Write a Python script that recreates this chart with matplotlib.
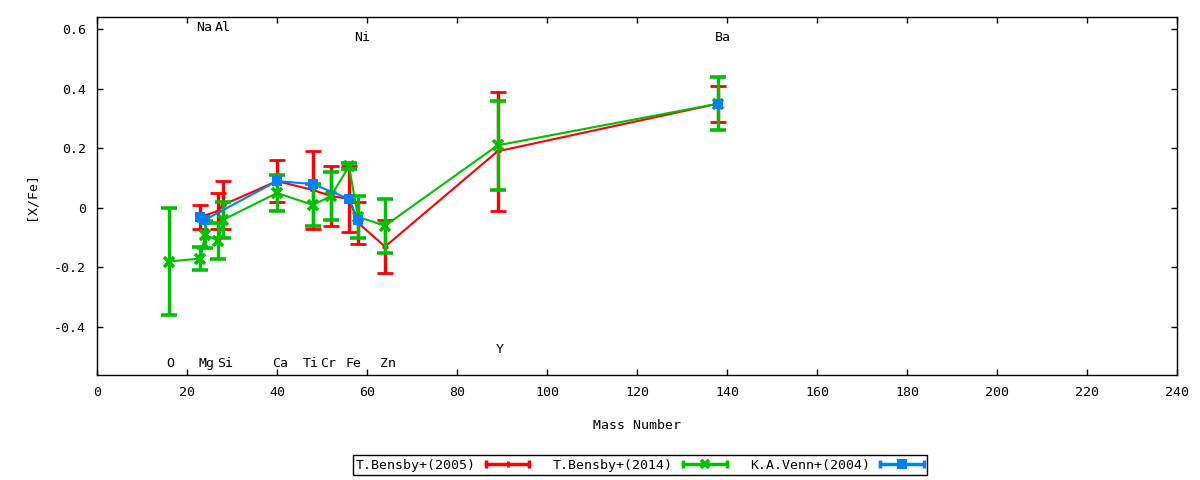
import matplotlib
matplotlib.use('Agg')
import matplotlib.pyplot as plt
from matplotlib.legend_handler import HandlerBase
from matplotlib.lines import Line2D

plt.rcParams['font.family'] = ['DejaVu Sans Mono', 'DejaVu Sans']
plt.rcParams['font.size'] = 9.5

# T.Bensby+(2005)
mass_2005 = [23, 27, 28, 40, 48, 52, 56, 58, 64, 89, 138]
xfe_2005 = [-0.03, -0.01, 0.01, 0.09, 0.06, 0.04, 0.03, -0.05, -0.13, 0.19, 0.35]
err_2005 = [0.04, 0.06, 0.08, 0.07, 0.13, 0.10, 0.11, 0.07, 0.09, 0.20, 0.06]

# T.Bensby+(2014)
mass_2014 = [16, 23, 24, 27, 28, 40, 48, 52, 56, 58, 64, 89, 138]
xfe_2014 = [-0.18, -0.17, -0.09, -0.11, -0.04, 0.05, 0.01, 0.04, 0.14, -0.03, -0.06, 0.21, 0.35]
err_2014 = [0.18, 0.04, 0.045, 0.06, 0.06, 0.06, 0.07, 0.08, 0.01, 0.07, 0.09, 0.15, 0.09]

# K.A.Venn+(2004) - Ba is not joined to the rest in the original
mass_2004 = [23, 24, 40, 48, 56, 58, 138]
xfe_2004 = [-0.03, -0.04, 0.09, 0.08, 0.03, -0.04, 0.35]
err_2004 = [0, 0, 0, 0, 0, 0, 0]
joined_2004 = 6

# element labels
el_names = ['O', 'Na', 'Mg', 'Al', 'Si', 'Ca', 'Ti', 'Cr', 'Fe', 'Ni', 'Zn', 'Y', 'Ba']
el_x = [16.2, 23.9, 24.4, 27.9, 28.4, 40.8, 47.6, 51.4, 57.0, 59.0, 64.7, 89.4, 139.0]
el_y = [-0.524, 0.605, -0.524, 0.605, -0.524, -0.524, -0.524, -0.524, -0.524, 0.572, -0.524, -0.477, 0.572]

red = '#ff0000'
green = '#00c000'
blue = '#0080ff'


class GnuKey(HandlerBase):
    # gnuplot style key sample: line with end caps and point in the middle
    def __init__(self, color, marker, ms, mew):
        super().__init__()
        self.color = color
        self.marker = marker
        self.ms = ms
        self.mew = mew

    def create_artists(self, legend, orig_handle, xdescent, ydescent,
                       width, height, fontsize, trans):
        y = height / 2 - ydescent
        x0 = -xdescent
        x1 = width - xdescent
        line = Line2D([x0, x1], [y, y], color=self.color, lw=2.5)
        caps = Line2D([x0, x1], [y, y], color=self.color, ls='none',
                      marker='|', ms=6, mew=2.5)
        pt = Line2D([(x0 + x1) / 2], [y], color=self.color, ls='none',
                    marker=self.marker, ms=self.ms, mew=self.mew)
        for a in (line, caps, pt):
            a.set_transform(trans)
        return [line, caps, pt]


fig = plt.figure(figsize=(12, 4.8), dpi=100)
ax = fig.add_axes([0.0808, 0.2188, 0.9002, 0.7458])

ax.errorbar(mass_2005, xfe_2005, yerr=err_2005, color=red, lw=1.5,
            elinewidth=2.4, capsize=5.5, capthick=2.4, marker='+',
            ms=5, mew=2, zorder=2)
ax.errorbar(mass_2014, xfe_2014, yerr=err_2014, color=green, lw=1.5,
            elinewidth=2.4, capsize=5.5, capthick=2.4, marker='x',
            ms=6.5, mew=2.6, zorder=3)
ax.errorbar(mass_2004, xfe_2004, yerr=err_2004, color=blue, ls='none',
            elinewidth=2.4, capsize=5.5, capthick=2.4, marker='s',
            ms=7.5, mew=0, zorder=4)
ax.plot(mass_2004[:joined_2004], xfe_2004[:joined_2004], color=blue,
        lw=1.5, zorder=4)

for name, x, y in zip(el_names, el_x, el_y):
    ax.text(x, y, name, ha='center', va='center', fontsize=9.5)

ax.set_xlim(0, 240)
ax.set_ylim(-0.561, 0.641)
ax.set_xticks(range(0, 241, 20))
ax.set_yticks([-0.4, -0.2, 0, 0.2, 0.4, 0.6])
ax.set_yticklabels(['-0.4', '-0.2', '0', '0.2', '0.4', '0.6'])
ax.tick_params(direction='in', length=4, width=1, top=True, right=True,
               pad=8, labelsize=9.5)
for s in ax.spines.values():
    s.set_linewidth(1)

ax.set_xlabel('Mass Number', fontsize=9.5, labelpad=14)
ax.set_ylabel('[X/Fe]', fontsize=9.5, labelpad=12)

h1 = Line2D([], [], color=red)
h2 = Line2D([], [], color=green)
h3 = Line2D([], [], color=blue)
leg = fig.legend([h1, h2, h3],
                 ['T.Bensby+(2005)', 'T.Bensby+(2014)', 'K.A.Venn+(2004)'],
                 handler_map={h1: GnuKey(red, '+', 5, 2),
                              h2: GnuKey(green, 'x', 6, 2.6),
                              h3: GnuKey(blue, 's', 7, 0)},
                 loc='center', bbox_to_anchor=(0.5333, 0.031), ncol=3,
                 markerfirst=False, fancybox=False, edgecolor='black',
                 framealpha=1, handlelength=3.3, handletextpad=0.75,
                 columnspacing=1.8, borderpad=0.25, fontsize=9.5)
leg.get_frame().set_linewidth(1)

fig.savefig('out.png', dpi=100)
